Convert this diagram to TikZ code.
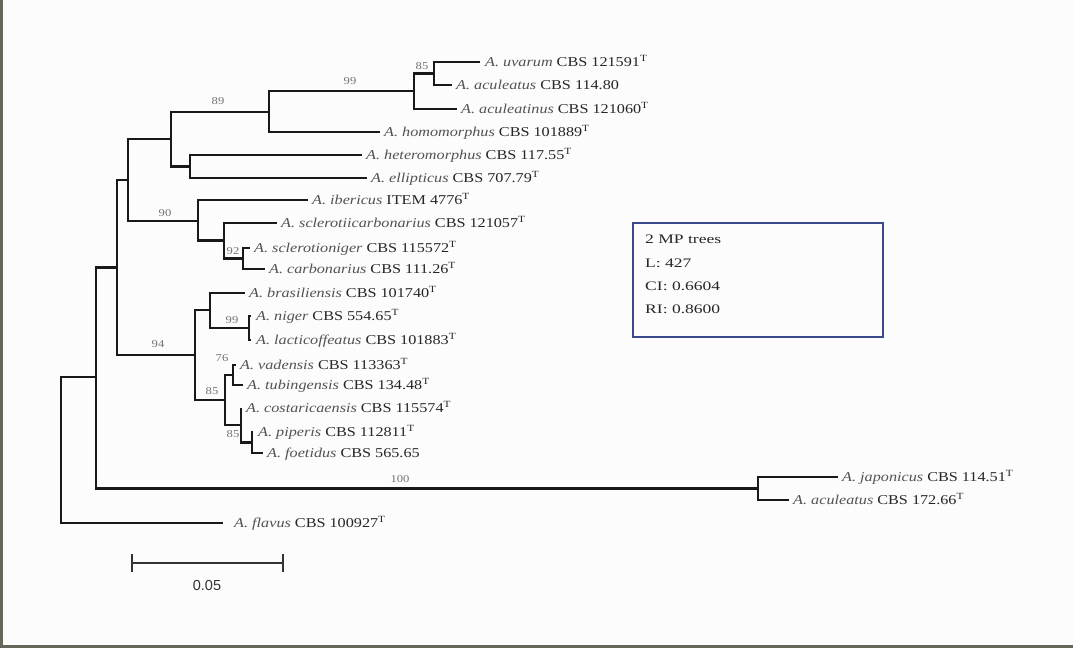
\documentclass[tikz,border=0pt]{standalone}
\usepackage{fontspec}
\setmainfont[FakeStretch=1.2]{Liberation Serif}
\newfontfamily\legfont[FakeStretch=1.35]{Liberation Serif}
\setsansfont{Liberation Sans}
\definecolor{framec}{HTML}{66665A}
\definecolor{legc}{HTML}{3B4A8C}
\newcommand\sn[1]{{\itshape\color{black!68}A. #1}}
\newcommand\tsup{\textsuperscript{T}}
\begin{document}
\begin{tikzpicture}[x=1pt,y=-1pt,
  br/.style={line width=2.2pt, black!90},
  leaf/.style={anchor=base west, inner sep=0pt, font=\fontsize{13.5}{15}\selectfont, text=black!85},
  bs/.style={anchor=base, inner sep=0pt, font=\fontsize{10.5}{12}\selectfont, text=black!55},
  legtext/.style={anchor=base west, inner sep=0pt, font=\legfont\fontsize{13}{15}\selectfont, text=black!85},
  frameline/.style={line width=3pt, framec}]
\useasboundingbox (0,0) rectangle (1073,648);
\fill[white!99!black] (0,0) rectangle (1073,648);
\draw[frameline] (1.5,0) -- (1.5,646.5) -- (1073,646.5);

% internal nodes
\coordinate (R) at (61,450);
\coordinate (B) at (96,377);
\coordinate (C) at (117,267.5);
\coordinate (A) at (128,180);
\coordinate (N89) at (171,139);
\coordinate (N99) at (269,112);
\coordinate (N99b) at (414,91);
\coordinate (N85a) at (434,73.5);
\coordinate (Nhet) at (190,166.5);
\coordinate (N90) at (198,221);
\coordinate (Nscl) at (224,240.5);
\coordinate (N92) at (243,258.5);
\coordinate (D) at (195,355);
\coordinate (E) at (210,310);
\coordinate (F) at (249,328);
\coordinate (G) at (225,400);
\coordinate (H) at (233,375);
\coordinate (I) at (241,425);
\coordinate (J) at (252,442.5);
\coordinate (K) at (758,488.5);

% tips
\coordinate (tUva) at (480,62);
\coordinate (tAcu1) at (452,85);
\coordinate (tAcn) at (457,109);
\coordinate (tHom) at (380,132);
\coordinate (tHet) at (362,155);
\coordinate (tEll) at (367,178);
\coordinate (tIbe) at (308,200);
\coordinate (tSca) at (277,223);
\coordinate (tScn) at (250,248);
\coordinate (tCar) at (265,269);
\coordinate (tBra) at (245,293);
\coordinate (tNig) at (251,316);
\coordinate (tLac) at (251,340);
\coordinate (tVad) at (236,365);
\coordinate (tTub) at (243,385);
\coordinate (tCos) at (241,408);
\coordinate (tPip) at (253,432);
\coordinate (tFoe) at (263,453);
\coordinate (tJap) at (838,477);
\coordinate (tAcu2) at (789,500);
\coordinate (tFla) at (223,523);

% branches
\draw[br] (R) |- (B);
\draw[br] (R) |- (tFla);
\draw[br] (B) |- (C);
\draw[br] (B) |- (K);
\draw[br] (K) |- (tJap);
\draw[br] (K) |- (tAcu2);
\draw[br] (C) |- (A);
\draw[br] (C) |- (D);
\draw[br] (A) |- (N89);
\draw[br] (A) |- (N90);
\draw[br] (N89) |- (N99);
\draw[br] (N89) |- (Nhet);
\draw[br] (N99) |- (N99b);
\draw[br] (N99) |- (tHom);
\draw[br] (N99b) |- (N85a);
\draw[br] (N99b) |- (tAcn);
\draw[br] (N85a) |- (tUva);
\draw[br] (N85a) |- (tAcu1);
\draw[br] (Nhet) |- (tHet);
\draw[br] (Nhet) |- (tEll);
\draw[br] (N90) |- (tIbe);
\draw[br] (N90) |- (Nscl);
\draw[br] (Nscl) |- (tSca);
\draw[br] (Nscl) |- (N92);
\draw[br] (N92) |- (tScn);
\draw[br] (N92) |- (tCar);
\draw[br] (D) |- (E);
\draw[br] (D) |- (G);
\draw[br] (E) |- (tBra);
\draw[br] (E) |- (F);
\draw[br] (F) |- (tNig);
\draw[br] (F) |- (tLac);
\draw[br] (G) |- (H);
\draw[br] (G) |- (I);
\draw[br] (H) |- (tVad);
\draw[br] (H) |- (tTub);
\draw[br] (I) |- (tCos);
\draw[br] (I) |- (J);
\draw[br] (J) |- (tPip);
\draw[br] (J) |- (tFoe);

% leaf labels
\node[leaf] (lUva) at (485,66.5) {\sn{uvarum} CBS 121591\tsup};
\node[leaf] (lAcu1) at (456,89.5) {\sn{aculeatus} CBS 114.80};
\node[leaf] (lAcn) at (461,113.5) {\sn{aculeatinus} CBS 121060\tsup};
\node[leaf] (lHom) at (384,136.5) {\sn{homomorphus} CBS 101889\tsup};
\node[leaf] (lHet) at (366,159.5) {\sn{heteromorphus} CBS 117.55\tsup};
\node[leaf] (lEll) at (371,182.5) {\sn{ellipticus} CBS 707.79\tsup};
\node[leaf] (lIbe) at (312,204.5) {\sn{ibericus} ITEM 4776\tsup};
\node[leaf] (lSca) at (281,227.5) {\sn{sclerotiicarbonarius} CBS 121057\tsup};
\node[leaf] (lScn) at (254,252.5) {\sn{sclerotioniger} CBS 115572\tsup};
\node[leaf] (lCar) at (269,273.5) {\sn{carbonarius} CBS 111.26\tsup};
\node[leaf] (lBra) at (249,297.5) {\sn{brasiliensis} CBS 101740\tsup};
\node[leaf] (lNig) at (256,320.5) {\sn{niger} CBS 554.65\tsup};
\node[leaf] (lLac) at (256,344.5) {\sn{lacticoffeatus} CBS 101883\tsup};
\node[leaf] (lVad) at (240,369.5) {\sn{vadensis} CBS 113363\tsup};
\node[leaf] (lTub) at (247,389.5) {\sn{tubingensis} CBS 134.48\tsup};
\node[leaf] (lCos) at (246,412.5) {\sn{costaricaensis} CBS 115574\tsup};
\node[leaf] (lPip) at (258,436.5) {\sn{piperis} CBS 112811\tsup};
\node[leaf] (lFoe) at (267,457.5) {\sn{foetidus} CBS 565.65};
\node[leaf] (lJap) at (842,481.5) {\sn{japonicus} CBS 114.51\tsup};
\node[leaf] (lAcu2) at (793,504.5) {\sn{aculeatus} CBS 172.66\tsup};
\node[leaf] (lFla) at (234,527.5) {\sn{flavus} CBS 100927\tsup};

% bootstrap values
\node[bs] (b99a) at (350,84) {99};
\node[bs] (b89) at (218,104) {89};
\node[bs] (b85a) at (422,69) {85};
\node[bs] (b90) at (165,216) {90};
\node[bs] (b92) at (233,254) {92};
\node[bs] (b94) at (158,347) {94};
\node[bs] (b99b) at (232,323) {99};
\node[bs] (b76) at (222,361) {76};
\node[bs] (b85b) at (212,394) {85};
\node[bs] (b85c) at (233,437) {85};
\node[bs] (b100) at (400,482) {100};

% scale bar
\coordinate (sb1) at (132,563);
\coordinate (sb2) at (283,563);
\draw[line width=2.2pt, black!80] (sb1) -- (sb2);
\draw[line width=1.8pt, black!80] ([yshift=9pt]sb1) -- ([yshift=-9pt]sb1);
\draw[line width=1.8pt, black!80] ([yshift=9pt]sb2) -- ([yshift=-9pt]sb2);
\node[anchor=base, inner sep=0pt, font=\sffamily\fontsize{14.5}{16}\selectfont, text=black!80] (sbl) at (207,590) {0.05};

% legend
\node[draw=legc, line width=1.5pt, minimum width=250pt, minimum height=114pt, inner sep=0pt] (leg) at (758,280) {};
\node[legtext] (leg1) at (645,243) {2 MP trees};
\node[legtext] (leg2) at (645,267) {L: 427};
\node[legtext] (leg3) at (645,290) {CI: 0.6604};
\node[legtext] (leg4) at (645,313) {RI: 0.8600};
\end{tikzpicture}
\end{document}
